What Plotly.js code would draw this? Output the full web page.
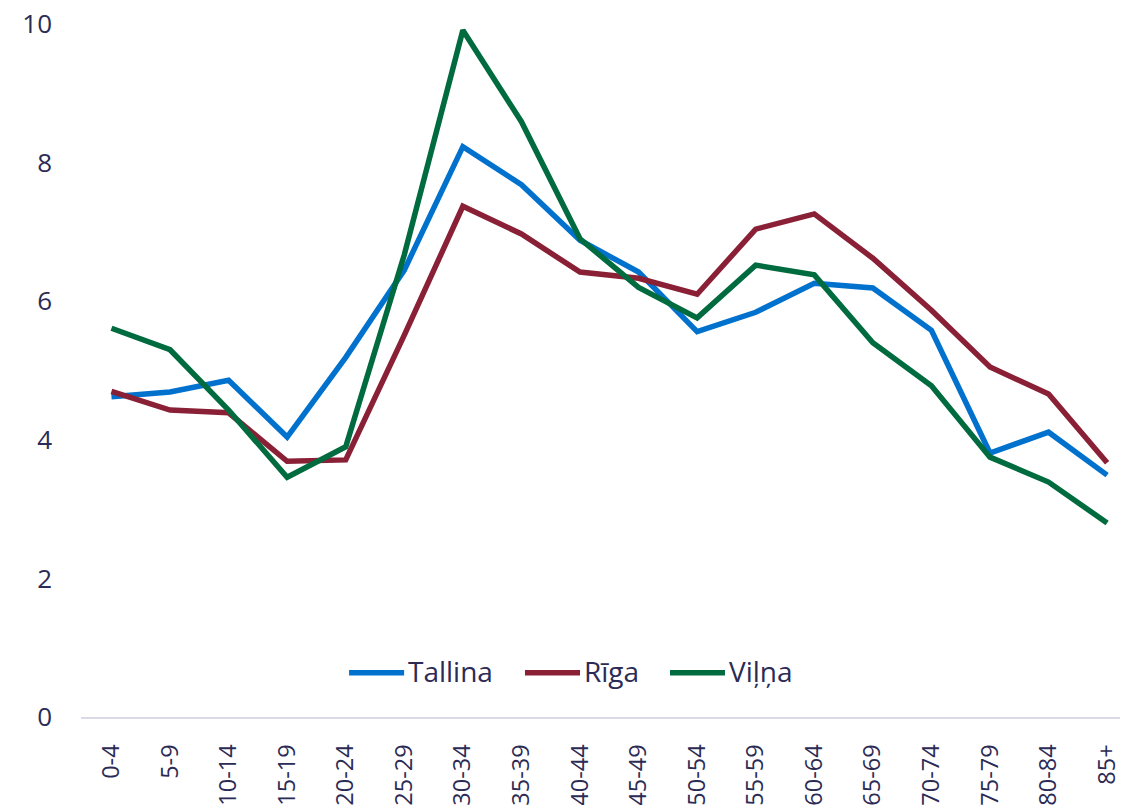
<!DOCTYPE html>
<html>
<head>
<meta charset="utf-8">
<script src="https://cdn.plot.ly/plotly-3.0.1.min.js"></script>
<style>html,body{margin:0;padding:0;background:#fff;}#chart{width:1122px;height:805px;}</style>
</head>
<body>
<div id="chart"></div>
<script>
const categories = ["0-4","5-9","10-14","15-19","20-24","25-29","30-34","35-39","40-44","45-49","50-54","55-59","60-64","65-69","70-74","75-79","80-84","85+"];
const tallina = [4.62,4.69,4.86,4.04,5.19,6.45,8.23,7.68,6.88,6.42,5.56,5.84,6.26,6.19,5.58,3.81,4.11,3.49];
const riga    = [4.70,4.43,4.39,3.69,3.71,5.51,7.37,6.97,6.42,6.33,6.10,7.04,7.26,6.62,5.87,5.05,4.66,3.67];
const vilna   = [5.61,5.30,4.43,3.46,3.90,6.67,9.91,8.59,6.90,6.20,5.76,6.52,6.38,5.40,4.78,3.75,3.39,2.80];
const seriesNames = ["Tallina","Rīga","Viļņa"];
const seriesColors = ["#0072ce","#8a2036","#006b3f"];
const yTicks = [0,2,4,6,8,10];

const textColor = "#2b2b55";
const font = "Open Sans, sans-serif";

const data = [tallina, riga, vilna];
const traces = data.map((vals, i) => ({
  x: categories, y: vals, name: seriesNames[i], type: "scatter", mode: "lines",
  line: {color: seriesColors[i], width: 5.5}, showlegend: false
}));

// custom legend (longer line samples, like the reference)
const legendLineX = [[0.2580, 0.3110], [0.4273, 0.4803], [0.5669, 0.6198]];
const legendY = 0.064;
const shapes = legendLineX.map((xx, i) => ({
  type: "line", xref: "paper", yref: "paper", x0: xx[0], x1: xx[1], y0: legendY, y1: legendY,
  line: {color: seriesColors[i], width: 5.5}
}));
const annotations = legendLineX.map((xx, i) => ({
  xref: "paper", yref: "paper", x: xx[1] + 0.002, y: legendY + 0.003, xanchor: "left", yanchor: "middle",
  text: seriesNames[i], showarrow: false, font: {family: font, size: 28, color: textColor}
}));

const layout = {
  width: 1122, height: 805,
  margin: {l: 81, r: 2, t: 24, b: 88},
  paper_bgcolor: "#fff", plot_bgcolor: "#fff",
  font: {family: font, color: textColor, size: 24},
  showlegend: false,
  shapes: shapes,
  annotations: annotations,
  xaxis: {type: "category", range: [-0.52, 17.22], tickangle: -90, showgrid: false, zeroline: false,
          showline: true, linecolor: "#d9d9e8", linewidth: 2, ticks: "", ticklabelstandoff: 16,
          tickfont: {family: font, size: 23.5, color: textColor}},
  yaxis: {range: [0, 10], tickvals: yTicks, ticktext: yTicks.map(String), showgrid: false, zeroline: false,
          showline: false, ticks: "", ticklabelstandoff: 28,
          tickfont: {family: font, size: 26, color: textColor}}
};

Plotly.newPlot("chart", traces, layout, {displayModeBar: false, staticPlot: true});
</script>
</body>
</html>
